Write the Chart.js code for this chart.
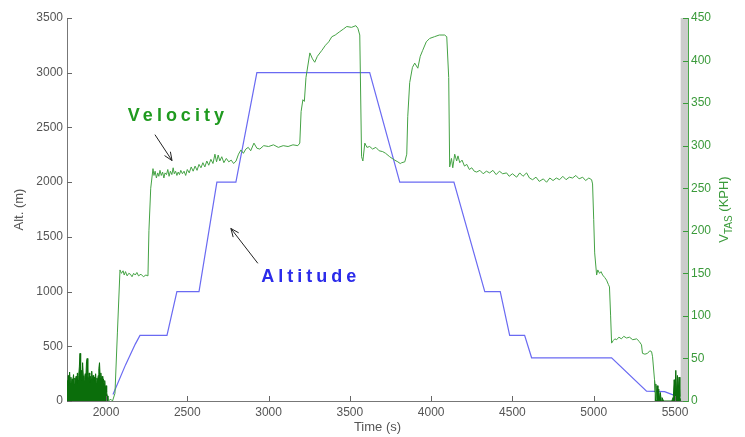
<!DOCTYPE html>
<html>
<head>
<meta charset="utf-8">
<script src="https://cdn.jsdelivr.net/npm/chart.js@4/dist/chart.umd.min.js"></script>
<style>
  body { margin: 0; background: #fff; }
  canvas { display: block; }
</style>
</head>
<body>
<canvas id="c" width="745" height="437"></canvas>
<script>
// axis ticks
const timeTicks = [2000, 2500, 3000, 3500, 4000, 4500, 5000, 5500];
const altTicks = [0, 500, 1000, 1500, 2000, 2500, 3000, 3500];
const speedTicks = [0, 50, 100, 150, 200, 250, 300, 350, 400, 450];

// altitude (m)
const altTime = [2043, 2120, 2180, 2209, 2375, 2436, 2572, 2682, 2799, 2928, 3622, 3807, 4140, 4330, 4425, 4483, 4575, 4618, 5110, 5325, 5436, 5480, 5500];
const altMeters = [60, 330, 520, 600, 600, 1000, 1000, 2000, 2000, 3000, 3000, 2000, 2000, 1000, 1000, 600, 600, 395, 395, 90, 85, 60, 50];

// true airspeed (KPH), in flight
const velTime = [2012, 2030, 2040, 2055, 2070, 2086, 2095, 2105, 2112, 2120, 2130, 2140, 2150, 2160, 2170, 2180, 2190, 2200, 2215, 2230, 2245, 2258,
  2264, 2275, 2289, 2295, 2302, 2310, 2318, 2325, 2332, 2340, 2348, 2356, 2363, 2372, 2380, 2388, 2396, 2405, 2413, 2420, 2428, 2436, 2444, 2452,
  2460, 2470, 2480, 2490, 2500, 2512, 2524, 2536, 2548, 2560, 2572, 2584, 2596, 2608, 2620, 2632, 2645, 2658, 2670, 2680, 2690, 2700, 2712, 2725,
  2740, 2755, 2770, 2785, 2800, 2815, 2830, 2845, 2860, 2875, 2890, 2910, 2928, 2946, 2970, 3000, 3030, 3060, 3090, 3120, 3150, 3180, 3192, 3200,
  3211, 3220, 3230, 3254, 3270, 3284, 3300, 3328, 3350, 3370, 3389, 3410, 3438, 3460, 3481, 3510, 3537, 3549, 3561, 3572, 3580, 3592, 3605, 3622,
  3640, 3660, 3680, 3702, 3720, 3745, 3760, 3776, 3795, 3810, 3819, 3838, 3850, 3856, 3868, 3885, 3899, 3918, 3933, 3948, 3970, 3991, 4020, 4050,
  4083, 4096, 4108, 4114, 4125, 4133, 4145, 4157, 4165, 4176, 4190, 4205, 4219, 4235, 4250, 4265, 4280, 4300, 4320, 4340, 4360, 4380, 4400, 4420,
  4440, 4464, 4480, 4500, 4526, 4545, 4565, 4587, 4605, 4624, 4645, 4665, 4690, 4710, 4730, 4750, 4770, 4790, 4810, 4830, 4850, 4870, 4890, 4910,
  4932, 4950, 4970, 4987, 4993, 5000, 5006, 5018, 5025, 5036, 5045, 5055, 5068, 5079, 5090, 5097, 5104, 5110, 5120, 5130, 5141, 5155, 5170, 5185,
  5202, 5220, 5240, 5264, 5280, 5294, 5300, 5315, 5331, 5345, 5356, 5362, 5374, 5386];
const velKph = [0, 2, 0, 9, 80, 154, 150, 153, 148, 152, 147, 150, 149, 146, 150, 148, 151, 147, 149, 146, 148, 147,
  200, 250, 273, 265, 270, 262, 268, 264, 271, 265, 269, 262, 268, 266, 272, 264, 270, 266, 274, 267, 270, 265, 269, 266,
  271, 267, 270, 265, 272, 268, 275, 270, 276, 271, 278, 274, 280, 275, 282, 277, 284, 279, 290, 281, 289, 282, 287, 280,
  285, 281, 283, 279, 282, 290, 295, 291, 296, 298, 294, 303, 297, 296, 300, 299, 301, 298, 300, 299, 301, 300, 303, 340,
  354, 352, 380, 409, 402, 398, 405, 412, 418, 422, 428, 430, 434, 437, 440, 439, 441, 438, 430, 287, 282, 303, 298, 299,
  296, 298, 294, 293, 291, 287, 285, 283, 281, 279, 280, 281, 290, 334, 374, 392, 397, 391, 405, 412, 422, 426, 428, 430,
  430, 428, 380, 275, 285, 274, 290, 282, 288, 280, 283, 276, 278, 272, 274, 270, 269, 271, 267, 270, 268, 271, 266, 270,
  267, 268, 264, 267, 263, 268, 264, 268, 262, 260, 263, 258, 261, 257, 262, 259, 262, 260, 264, 260, 263, 262, 265, 261,
  263, 259, 262, 260, 255, 213, 174, 148, 154, 150, 152, 148, 145, 142, 137, 134, 100, 68, 71, 73, 72, 75, 73, 76,
  74, 75, 72, 73, 70, 66, 56, 55, 56, 59, 58, 52, 25, 1];

// airspeed noise on the ground (KPH)
const groundTime = [1760, 1764, 1768, 1772, 1776, 1780, 1784, 1788, 1792, 1796, 1800, 1804, 1808, 1812, 1816, 1820, 1824, 1828, 1832, 1836, 1840,
  1844, 1848, 1852, 1856, 1860, 1864, 1868, 1872, 1876, 1880, 1884, 1888, 1892, 1896, 1900, 1904, 1908, 1912, 1916, 1920, 1924, 1928, 1932,
  1936, 1940, 1944, 1948, 1952, 1956, 1960, 1964, 1968, 1972, 1976, 1980, 1984, 1988, 1992, 1996, 2000, 2004, 2008, 2012];
const groundKph = [24, 18, 30, 20, 34, 22, 28, 19, 26, 23, 31, 20, 27, 24, 29, 21, 33, 25, 30, 40, 56,
  28, 36, 24, 45, 30, 26, 22, 32, 27, 46, 50, 30, 25, 33, 22, 29, 26, 35, 24, 30, 23, 28, 25,
  32, 22, 27, 24, 30, 38, 45, 28, 33, 25, 29, 22, 26, 20, 24, 15, 18, 10, 6, 0];
const taxiTime = [5374, 5378, 5382, 5386, 5390, 5395, 5400, 5405, 5410, 5415, 5420, 5430, 5480, 5490, 5495, 5500, 5505, 5510, 5515, 5520, 5525, 5530, 5535];
const taxiKph = [25, 10, 20, 3, 18, 5, 14, 2, 10, 0, 4, 0, 0, 5, 25, 10, 36, 8, 30, 12, 28, 5, 0];

const bandStart = 5535;

const notes = [
  { text: 'Velocity', color: '#1f9a1f', t: 2442, alt: 2607, from: [2301, 2434], to: [2406, 2197] },
  { text: 'Altitude', color: '#2b2bea', t: 3260, alt: 1130, from: [2934, 1258], to: [2768, 1577] }
];

const pts = (xs, ys) => xs.map((v, i) => ({ x: v, y: ys[i] }));
const FONT = "'Liberation Sans', Arial, sans-serif";
const GREEN = '#3a9a3a';

function arrow(ctx, x1, y1, x2, y2) {
  const a = Math.atan2(y2 - y1, x2 - x1);
  ctx.beginPath();
  ctx.moveTo(x1, y1);
  ctx.lineTo(x2, y2);
  ctx.moveTo(x2 - 9 * Math.cos(a - 0.4), y2 - 9 * Math.sin(a - 0.4));
  ctx.lineTo(x2, y2);
  ctx.lineTo(x2 - 9 * Math.cos(a + 0.4), y2 - 9 * Math.sin(a + 0.4));
  ctx.stroke();
}

const overlay = {
  id: 'overlay',
  beforeDatasetsDraw(chart) {
    const { ctx, chartArea: a, scales: { x } } = chart;
    const x0 = x.getPixelForValue(bandStart);
    ctx.save();
    ctx.fillStyle = '#cccccc';
    ctx.fillRect(x0, a.top, a.right - x0, a.bottom - a.top);
    ctx.restore();
  },
  afterDraw(chart) {
    const { ctx, chartArea: a, scales: { x, y, y2 } } = chart;
    ctx.save();
    ctx.lineWidth = 1;

    // little inward tick marks, matlab style
    ctx.strokeStyle = '#666';
    ctx.beginPath();
    y.ticks.forEach(t => { const p = Math.round(y.getPixelForValue(t.value)) + 0.5; ctx.moveTo(a.left, p); ctx.lineTo(a.left + 5, p); });
    x.ticks.forEach(t => { const p = Math.round(x.getPixelForValue(t.value)) + 0.5; ctx.moveTo(p, a.bottom); ctx.lineTo(p, a.bottom - 5); });
    ctx.stroke();
    ctx.strokeStyle = GREEN;
    ctx.beginPath();
    y2.ticks.forEach(t => { const p = Math.round(y2.getPixelForValue(t.value)) + 0.5; ctx.moveTo(a.right, p); ctx.lineTo(a.right - 5, p); });
    ctx.stroke();

    // right axis title with subscript
    ctx.translate(724, (a.top + a.bottom) / 2);
    ctx.rotate(-Math.PI / 2);
    ctx.fillStyle = GREEN;
    ctx.textBaseline = 'middle';
    const big = '13px ' + FONT, small = '10px ' + FONT;
    ctx.font = big; const wV = ctx.measureText('V').width; const wK = ctx.measureText(' (KPH)').width;
    ctx.font = small; const wT = ctx.measureText('TAS').width;
    let cx = -(wV + wT + wK) / 2;
    ctx.font = big; ctx.fillText('V', cx, 0); cx += wV;
    ctx.font = small; ctx.fillText('TAS', cx, 5); cx += wT;
    ctx.font = big; ctx.fillText(' (KPH)', cx, 0);
    ctx.setTransform(1, 0, 0, 1, 0, 0);

    // annotations
    notes.forEach(n => {
      ctx.font = 'bold 18px ' + FONT;
      ctx.letterSpacing = '4px';
      ctx.fillStyle = n.color;
      ctx.textAlign = 'center';
      ctx.textBaseline = 'middle';
      ctx.fillText(n.text, x.getPixelForValue(n.t), y.getPixelForValue(n.alt));
      ctx.strokeStyle = '#222';
      arrow(ctx, x.getPixelForValue(n.from[0]), y.getPixelForValue(n.from[1]),
        x.getPixelForValue(n.to[0]), y.getPixelForValue(n.to[1]));
    });
    ctx.restore();
  }
};

const tickFont = { family: FONT, size: 12 };
const plain = v => String(v);

new Chart(document.getElementById('c'), {
  type: 'line',
  data: {
    datasets: [
      { label: 'Velocity', data: pts(velTime, velKph), yAxisID: 'y2', borderColor: '#44a244', borderWidth: 1, pointRadius: 0, tension: 0 },
      { label: 'Ground', data: pts(groundTime, groundKph), yAxisID: 'y2', borderColor: '#0b6e0b', backgroundColor: '#0b6e0b', borderWidth: 1, pointRadius: 0, fill: 'origin' },
      { label: 'Taxi', data: pts(taxiTime, taxiKph), yAxisID: 'y2', borderColor: '#0b6e0b', backgroundColor: '#0b6e0b', borderWidth: 1, pointRadius: 0, fill: 'origin' },
      { label: 'Altitude', data: pts(altTime, altMeters), yAxisID: 'y', borderColor: '#6a6af2', borderWidth: 1.2, pointRadius: 0, tension: 0 }
    ]
  },
  options: {
    responsive: false,
    animation: false,
    events: [],
    layout: { padding: { top: 18, left: 0, right: 0, bottom: 0 } },
    plugins: { legend: { display: false }, tooltip: { enabled: false } },
    scales: {
      x: {
        type: 'linear', min: 1760, max: 5580,
        afterBuildTicks: s => { s.ticks = timeTicks.map(v => ({ value: v })); },
        afterFit: s => { s.height = 36; },
        grid: { display: false, drawTicks: false },
        border: { display: true, color: '#777' },
        ticks: { font: tickFont, color: '#555', padding: 4, maxRotation: 0, callback: plain },
        title: { display: true, text: 'Time (s)', font: { family: FONT, size: 13 }, color: '#555', padding: { top: 0, bottom: 2 } }
      },
      y: {
        position: 'left', min: 0, max: 3500,
        afterBuildTicks: s => { s.ticks = altTicks.map(v => ({ value: v })); },
        afterFit: s => { s.width = 67; },
        grid: { display: false, drawTicks: false },
        border: { display: true, color: '#777' },
        ticks: { font: tickFont, color: '#555', padding: 4, callback: plain },
        title: { display: true, text: 'Alt. (m)', font: { family: FONT, size: 13 }, color: '#555', padding: { top: 12 } }
      },
      y2: {
        position: 'right', min: 0, max: 450,
        afterBuildTicks: s => { s.ticks = speedTicks.map(v => ({ value: v })); },
        afterFit: s => { s.width = 57; },
        grid: { display: false, drawTicks: false },
        border: { display: true, color: '#4aa84a' },
        ticks: { font: tickFont, color: GREEN, padding: 3, callback: plain }
      }
    }
  },
  plugins: [overlay]
});
</script>
</body>
</html>
